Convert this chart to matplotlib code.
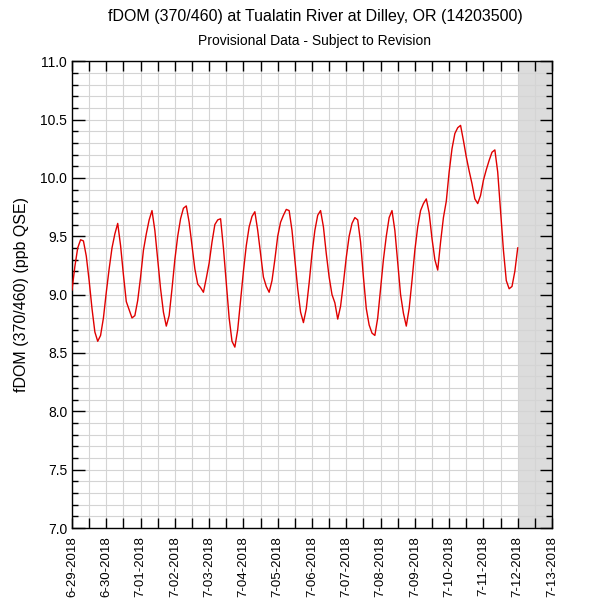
import numpy as np
import pandas as pd
import matplotlib
matplotlib.use("Agg")
from matplotlib import pyplot as plt
import matplotlib.dates as mdates
from matplotlib.ticker import MultipleLocator, FuncFormatter

plt.rcParams['font.family'] = ['Liberation Sans', 'DejaVu Sans']

# readings every 2 hours starting 6-29-2018 00:00
start = "2018-06-29 00:00"
step_hours = 2
fdom = [
    9.04, 9.24, 9.40, 9.47, 9.46, 9.33, 9.12, 8.88, 8.68, 8.60,
    8.65, 8.80, 9.02, 9.22, 9.40, 9.52, 9.61, 9.42, 9.17, 8.94,
    8.87, 8.80, 8.82, 8.95, 9.15, 9.38, 9.52, 9.64, 9.72, 9.55,
    9.30, 9.05, 8.85, 8.73, 8.82, 9.05, 9.30, 9.50, 9.65, 9.74,
    9.76, 9.62, 9.42, 9.22, 9.09, 9.06, 9.02, 9.14, 9.27, 9.45,
    9.60, 9.64, 9.65, 9.40, 9.10, 8.80, 8.60, 8.55, 8.70, 8.95,
    9.20, 9.42, 9.58, 9.67, 9.71, 9.55, 9.35, 9.15, 9.07, 9.02,
    9.12, 9.30, 9.50, 9.62, 9.68, 9.73, 9.72, 9.55, 9.30, 9.05,
    8.85, 8.76, 8.88, 9.10, 9.35, 9.55, 9.68, 9.72, 9.58, 9.35,
    9.15, 9.00, 8.93, 8.79, 8.90, 9.10, 9.32, 9.50, 9.61, 9.66,
    9.64, 9.45, 9.15, 8.88, 8.74, 8.67, 8.65, 8.80, 9.05, 9.30,
    9.50, 9.66, 9.72, 9.55, 9.28, 9.00, 8.84, 8.73, 8.88, 9.12,
    9.38, 9.58, 9.72, 9.78, 9.82, 9.70, 9.48, 9.30, 9.21, 9.45,
    9.66, 9.80, 10.05, 10.25, 10.38, 10.43, 10.45, 10.32, 10.18, 10.06,
    9.95, 9.82, 9.78, 9.85, 9.98, 10.07, 10.15, 10.22, 10.24, 10.05,
    9.72, 9.38, 9.12, 9.05, 9.07, 9.20, 9.40,
]
times = pd.date_range(start, periods=len(fdom), freq=f"{step_hours}h")

x_start = pd.Timestamp("2018-06-29")
x_end = pd.Timestamp("2018-07-13")
shade_start = pd.Timestamp("2018-07-12")

fig = plt.figure(figsize=(6, 6), dpi=100)
ax = fig.add_axes([0.12, 0.12, 0.80, 0.778])

ax.axvspan(shade_start, x_end, color="#dcdcdc", zorder=0, lw=0)
ax.plot(times, fdom, color="#e00000", lw=1.0, zorder=3)

ax.set_xlim(x_start, x_end)
ax.set_ylim(7.0, 11.0)

ax.xaxis.set_major_locator(mdates.DayLocator())
ax.xaxis.set_minor_locator(mdates.HourLocator(byhour=[12]))
ax.xaxis.set_major_formatter(FuncFormatter(
    lambda v, pos: "{}-{:02d}-{}".format(mdates.num2date(v).month,
                                         mdates.num2date(v).day,
                                         mdates.num2date(v).year)))
ax.yaxis.set_major_locator(MultipleLocator(0.5))
ax.yaxis.set_minor_locator(MultipleLocator(0.1))
ax.yaxis.set_major_formatter(FuncFormatter(lambda v, pos: "{:.1f}".format(v)))

ax.grid(True, which="both", color="#d4d4d4", lw=0.8, zorder=1)
ax.set_axisbelow(True)

ax.tick_params(axis="both", which="both", direction="in", top=True, right=True,
               colors="black", labelsize=10)
ax.tick_params(axis="y", which="major", length=9, width=1)
ax.tick_params(axis="y", which="minor", length=4.5, width=1)
ax.tick_params(axis="x", which="both", length=7, width=1)
ax.tick_params(axis="x", which="major", labelrotation=90, labelsize=9.5, pad=6)
for sp in ax.spines.values():
    sp.set_linewidth(1.0)

ax.set_ylabel("fDOM (370/460) (ppb QSE)", fontsize=11.5, labelpad=8)

fig.text(0.525, 0.972, "fDOM (370/460) at Tualatin River at Dilley, OR (14203500)",
         ha="center", va="center", fontsize=11.5)
fig.text(0.525, 0.931, "Provisional Data - Subject to Revision",
         ha="center", va="center", fontsize=10)

fig.savefig("out.png", dpi=100, facecolor="white")
